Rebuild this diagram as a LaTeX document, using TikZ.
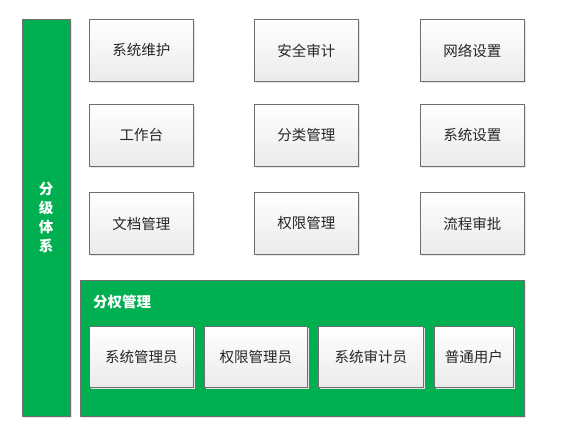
\documentclass[tikz,border=0pt]{standalone}
\usepackage{fontspec}
\setmainfont{Noto Sans CJK SC}
\usetikzlibrary{shadows}
\definecolor{grn}{HTML}{00B050}
\definecolor{bord}{HTML}{6E6E6E}
\definecolor{txt}{HTML}{262626}
\begin{document}
\begin{tikzpicture}[x=1pt,y=-1pt,
  cell/.style={draw=bord, line width=0.9pt, top color=white, bottom color=black!8,
    font=\fontsize{14.5}{17}\selectfont, text=txt, inner sep=0pt, anchor=north west,
    drop shadow={shadow xshift=1.5pt, shadow yshift=-1.5pt, fill=black!10, opacity=1}},
  greenbox/.style={draw=bord, line width=0.9pt, fill=grn, inner sep=0pt, anchor=north west,
    drop shadow={shadow xshift=1.5pt, shadow yshift=-1.5pt, fill=black!10, opacity=1}},
  lbl/.style={text=white, font=\bfseries\fontsize{14.5}{19}\selectfont}]
\useasboundingbox (0,0) rectangle (572,441);
% left bar
\node[greenbox, minimum width=48pt, minimum height=397pt] (bar) at (22,19) {};
\node[lbl, align=center] (bartxt) at (46,218) {分\\级\\体\\系};
% grid cells
\foreach \nm/\x/\y/\t in {a/89/19/系统维护, b/254/19/安全审计, c/420/19/网络设置,
  d/89/104/工作台, e/254/104/分类管理, f/420/104/系统设置,
  g/89/192/文档管理, h/254/192/权限管理, i/420/192/流程审批}{
  \node[cell, minimum width=104pt, minimum height=62pt] (\nm) at (\x,\y) {\t};
}
% group
\node[greenbox, minimum width=444pt, minimum height=136pt] (grp) at (80,280) {};
\node[lbl, anchor=west, inner sep=0pt] (grptitle) at (93,302) {分权管理};
\node[cell, minimum width=104pt, minimum height=61pt] (r1) at (89,326) {系统管理员};
\node[cell, minimum width=103pt, minimum height=61pt] (r2) at (204,326) {权限管理员};
\node[cell, minimum width=105pt, minimum height=61pt] (r3) at (318,326) {系统审计员};
\node[cell, minimum width=79pt, minimum height=61pt] (r4) at (434,326) {普通用户};
\end{tikzpicture}
\end{document}
